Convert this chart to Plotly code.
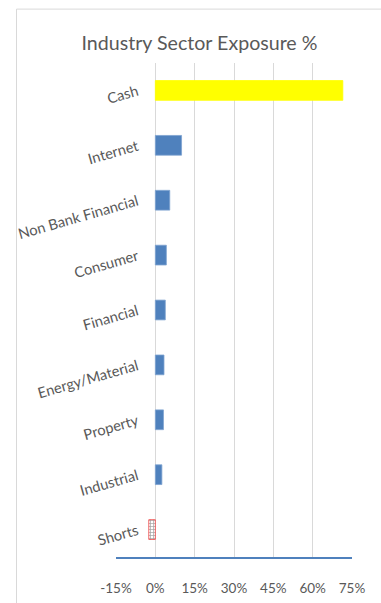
import plotly.graph_objects as go

categories = ["Cash", "Internet", "Non Bank Financial", "Consumer", "Financial",
              "Energy/Material", "Property", "Industrial", "Shorts"]
values = [71.5, 10.0, 5.5, 4.2, 3.8, 3.3, 3.1, 2.5, -2.5]
x_ticks = [-15, 0, 15, 30, 45, 60, 75]
x_tick_labels = ["-15%", "0%", "15%", "30%", "45%", "60%", "75%"]

BLUE = "#4F81BD"
colors = ["#FFFF00"] + [BLUE] * 7 + ["#FFFFFF"]
line_colors = ["#FFFF00"] + ["#7FA3D1"] * 7 + ["#F04040"]
pattern_shapes = [""] * 8 + ["+"]

fig = go.Figure()
fig.add_trace(go.Bar(
    x=values, y=categories, orientation="h",
    marker=dict(color=colors,
                line=dict(color=line_colors, width=0.8),
                pattern=dict(shape=pattern_shapes, fgcolor="#F07878",
                             bgcolor="#FFFFFF", size=3, solidity=0.4)),
    width=0.36, showlegend=False,
))

W, H = 381, 603
L, R, T, B = 116, 29, 62.5, 45.5
pw, ph = W - L - R, H - T - B

fig.update_layout(
    width=W, height=H,
    margin=dict(l=L, r=R, t=T, b=B, pad=0, autoexpand=False),
    paper_bgcolor="white", plot_bgcolor="white",
    font=dict(family="Lato", color="#595959", size=12),
    title=dict(text="Industry Sector Exposure %", x=199.5 / W, xanchor="center",
               y=1 - 43 / H, yanchor="middle",
               font=dict(family="Lato", size=19.6, color="#595959")),
    xaxis=dict(range=[-15, 75], tickvals=x_ticks, ticktext=x_tick_labels,
               showgrid=True, gridcolor="#D9D9D9", gridwidth=1, zeroline=False,
               showline=True, linecolor=BLUE, linewidth=1.5,
               ticks="", ticklabelstandoff=18, domain=[0, 1], automargin=False,
               tickfont=dict(family="Lato", size=13.5, color="#595959")),
    yaxis=dict(categoryorder="array", categoryarray=categories, autorange="reversed",
               anchor="free", position=1 / 6, side="left", automargin=False,
               showgrid=False, zeroline=False, showline=False, ticks="",
               tickangle=-16, ticklabelstandoff=18,
               tickfont=dict(family="Lato", size=14.7, color="#595959")),
    shapes=[dict(type="rect", xref="paper", yref="paper",
                 x0=(16.5 - L) / pw, x1=2, y0=-1, y1=(H - B - 8.5) / ph,
                 line=dict(color="#D9D9D9", width=1), layer="below")],
)

fig.write_html("out.html")
